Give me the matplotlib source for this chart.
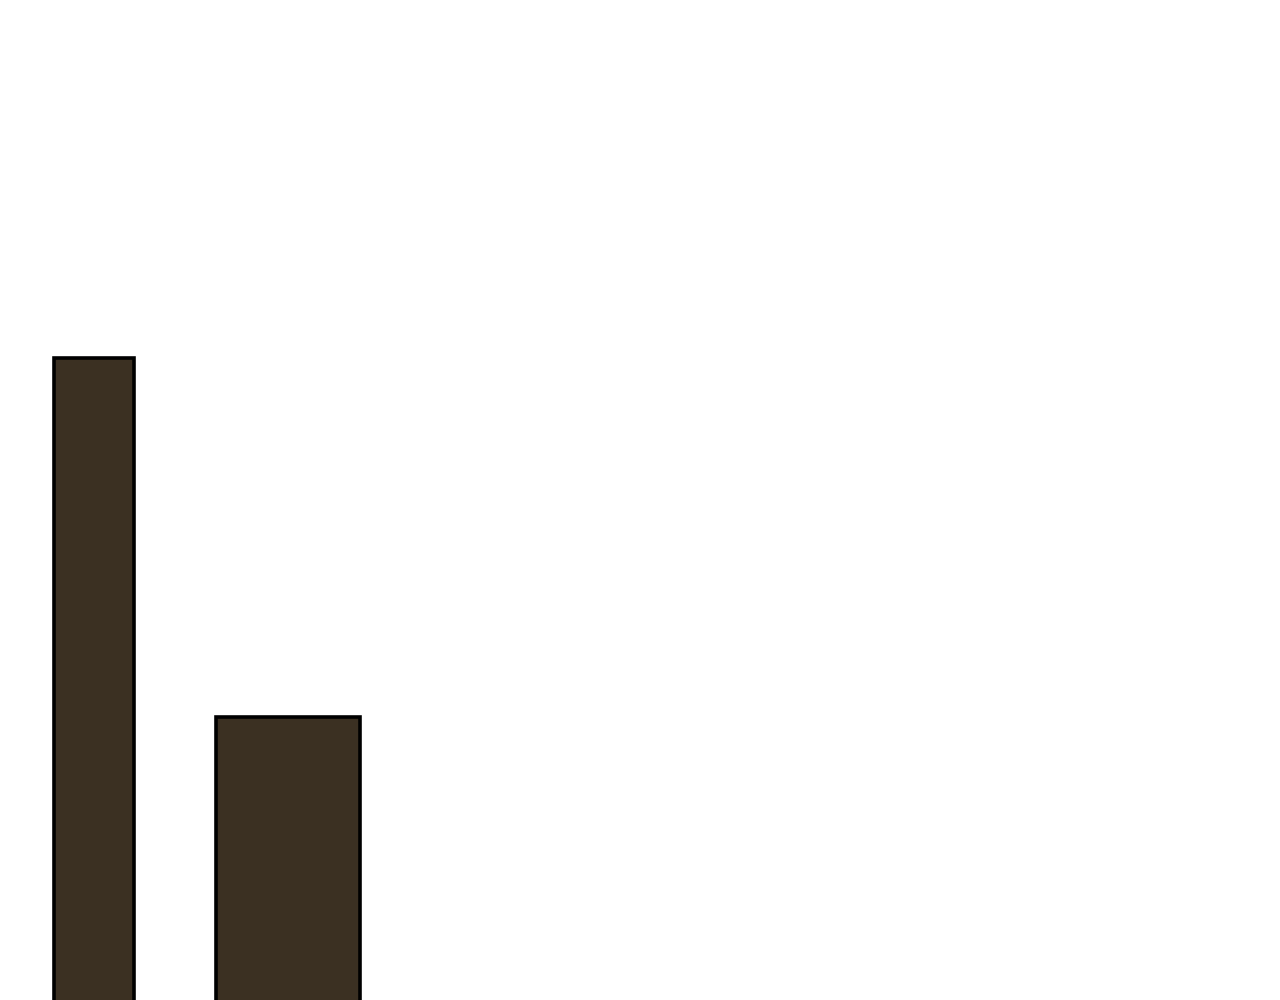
import matplotlib
matplotlib.use('Agg')
import matplotlib.pyplot as plt

# bar data (x centres, widths, heights)
centres = [1.18, 3.60]
widths = [1.00, 1.81]
heights = [6.92, 3.33]

fig = plt.figure(figsize=(12.8, 10), dpi=100)
ax = fig.add_axes([0, 0, 1, 1])
# baseline sits just below the visible area, as in the reference
ax.bar(centres, heights, width=widths, bottom=-0.5, color='#3b3022',
       edgecolor='black', linewidth=2.6)
ax.set_xlim(0, 16)
ax.set_ylim(0, 10)
ax.axis('off')

fig.savefig('out.png', dpi=100, facecolor='white')
